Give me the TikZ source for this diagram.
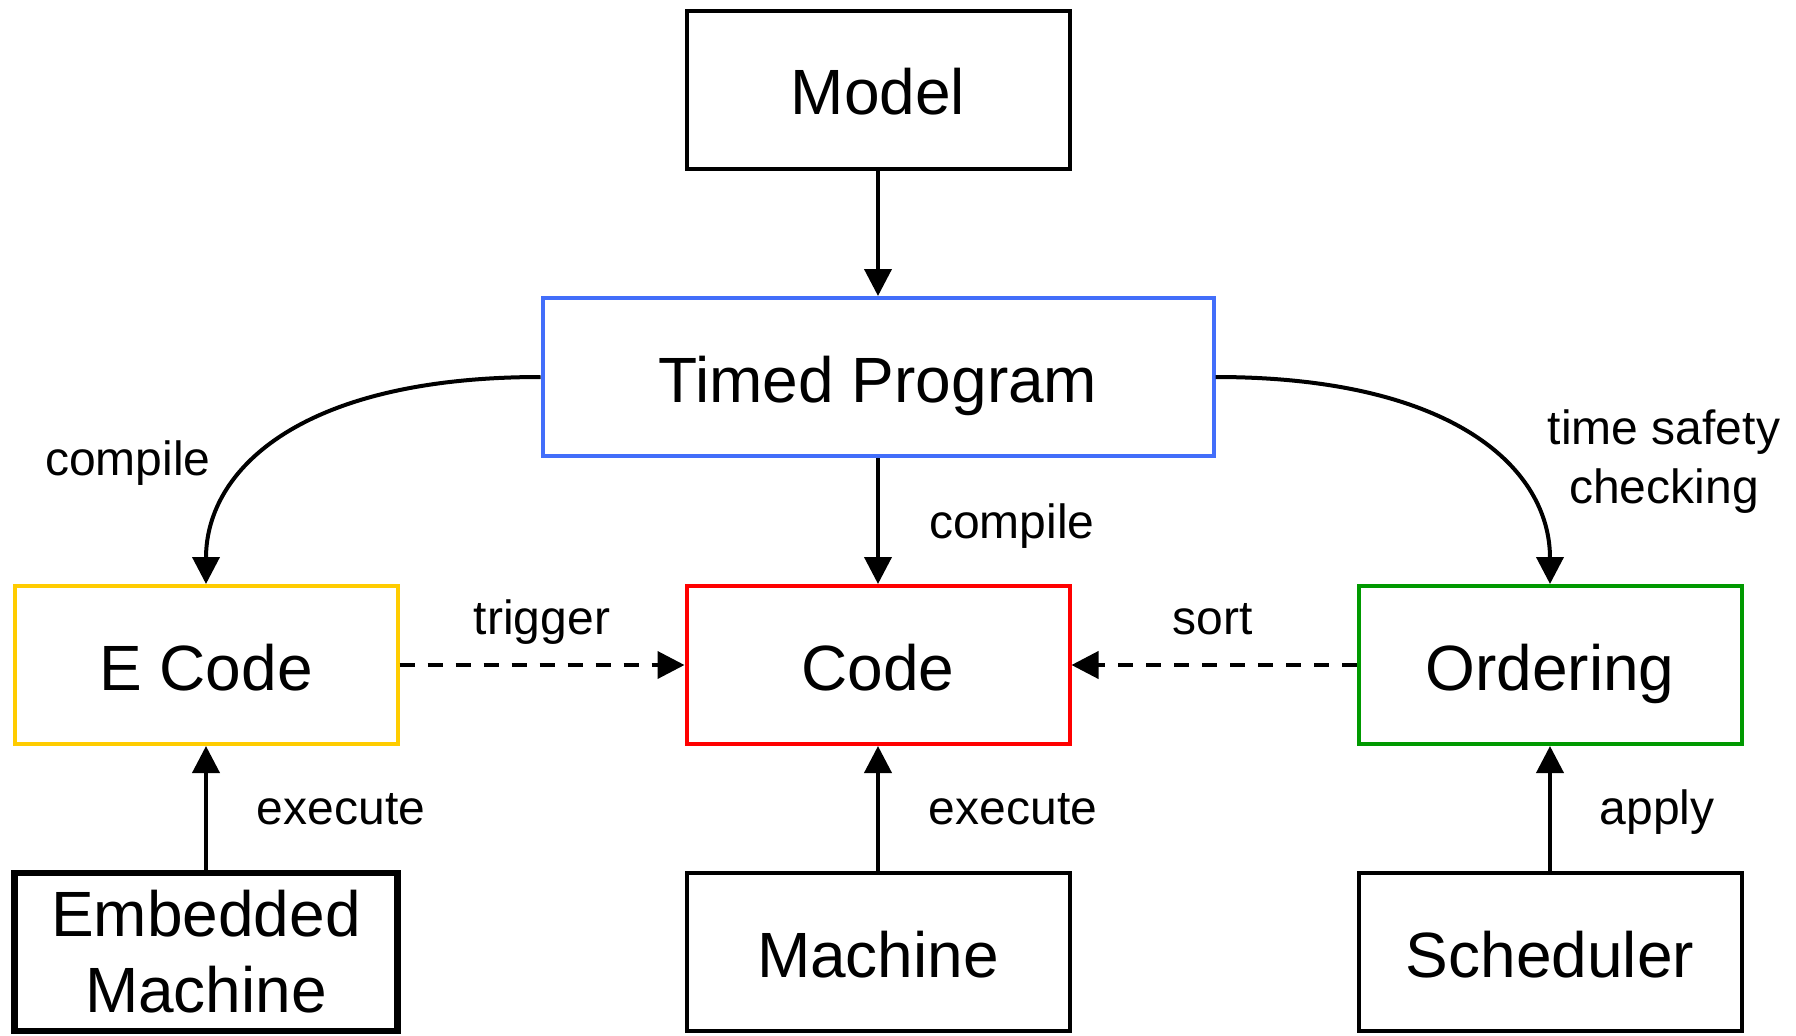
\documentclass[tikz,border=0pt]{standalone}
\usepackage{fontspec}
\setmainfont{Liberation Sans}
\usetikzlibrary{arrows.meta}
\definecolor{tpblue}{RGB}{66,110,250}
\definecolor{ecyellow}{RGB}{255,204,0}
\definecolor{codered}{RGB}{255,0,0}
\definecolor{ordgreen}{RGB}{0,153,0}
\begin{document}
\begin{tikzpicture}[x=0.5pt,y=-0.5pt,
  box/.style={draw, line width=2pt, minimum width=191.5pt, minimum height=79pt,
    inner sep=0pt, font=\fontsize{32}{38}\selectfont},
  onebox/.style={box, text height=30pt, text depth=5pt},
  lbl/.style={font=\fontsize{24}{29}\selectfont, inner sep=0pt, anchor=base},
  arr/.style={line width=2pt, -{Triangle[length=13.5pt,width=13.5pt]}},
  dasharr/.style={arr, dash pattern=on 7.5pt off 6.5pt}]
\useasboundingbox (0,0) rectangle (1796,1035);

% boxes
\node[onebox] (model) at (878,89.5) {Model};
\node[onebox, draw=tpblue, minimum width=335.5pt] (tp) at (878,377) {Timed Program};
\node[onebox, draw=ecyellow] (ecode) at (206,665) {E Code};
\node[onebox, draw=codered] (code) at (878,665) {Code};
\node[onebox, draw=ordgreen] (ord) at (1550,665) {Ordering};
\node[box, line width=3.25pt, align=center] (emb) at (206,952) {Embedded\\Machine};
\node[onebox] (mach) at (878,952) {Machine};
\node[onebox] (sched) at (1550,952) {Scheduler};

% connectors
\draw[arr] (model) -- (tp);
\draw[arr] (tp) -- (code);
\draw[arr] (tp.west) .. controls (300,377) and (206,470) .. (ecode.north);
\draw[arr] (tp.east) .. controls (1456,377) and (1550,470) .. (ord.north);
\draw[dasharr] (ecode) -- (code);
\draw[dasharr] (ord) -- (code);
\draw[arr] (emb) -- (ecode);
\draw[arr] (mach) -- (code);
\draw[arr] (sched) -- (ord);

% edge labels
\node[lbl] (l1) at (128,475) {compile};
\node[lbl] (l2) at (1012,538) {compile};
\node[lbl] (l3) at (1664,444) {time safety};
\node[lbl] (l4) at (1664,503) {checking};
\node[lbl] (l5) at (542,634) {trigger};
\node[lbl] (l6) at (1213,634) {sort};
\node[lbl] (l7) at (341,824) {execute};
\node[lbl] (l8) at (1013,824) {execute};
\node[lbl] (l9) at (1657,824) {apply};
\end{tikzpicture}
\end{document}
